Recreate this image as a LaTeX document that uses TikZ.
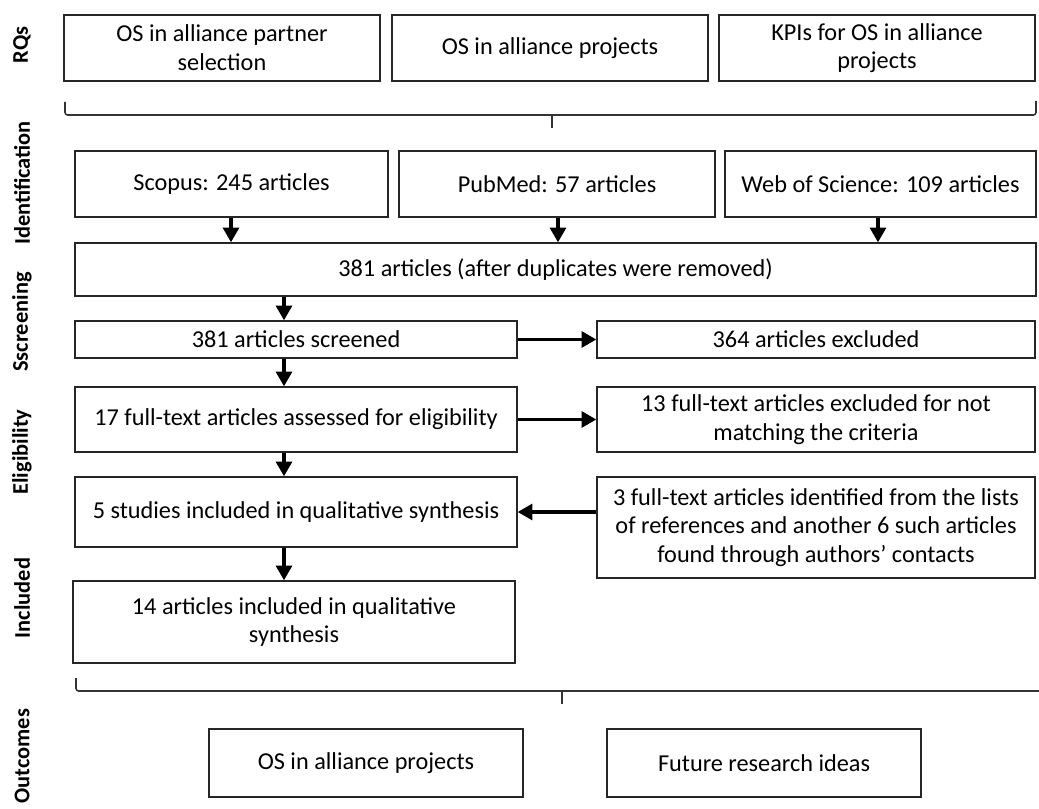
\documentclass[tikz,border=0pt]{standalone}
\usepackage{fontspec}
\setmainfont{Carlito}
\usetikzlibrary{arrows.meta}
\tikzset{
  box/.style={draw=black!85, line width=1.1pt, align=center, inner sep=2pt, font=\fontsize{18.2}{21.5}\selectfont},
  arr/.style={line width=2.3pt, -{Triangle[length=11pt,width=12pt]}},
  brace/.style={line width=1.2pt, draw=black!80, rounded corners=2pt},
  phase/.style={rotate=90, font=\bfseries\fontsize{16.8}{20}\selectfont, inner sep=0pt}
}
\newcommand\mybox[6]{\node[box,minimum width={(#4-#2)*0.75pt},minimum height={(#5-#3)*0.75pt}] (#1) at ({(#2+#4)/2},{(#3+#5)/2+1}) {#6};}
\begin{document}
\begin{tikzpicture}[x=0.75pt,y=-0.75pt]
\useasboundingbox (0,0) rectangle (1039,809);
% phase labels
\node[phase] (lrq) at (22,45) {RQs};
\node[phase] (lid) at (22,183) {Identification};
\node[phase] (lsc) at (22,322) {Sscreening};
\node[phase] (lel) at (22,452) {Eligibility};
\node[phase] (lin) at (22,598) {Included};
\node[phase] (lout) at (22,756) {Outcomes};
% RQ boxes
\mybox{rq1}{64}{14}{380}{80}{OS in alliance partner\\selection}
\mybox{rq2}{392}{14}{708}{80}{OS in alliance projects}
\mybox{rq3}{719}{14}{1035}{80}{KPIs for OS in alliance\\projects}
% top brace
\draw[brace] (65,102) -- (65,115) -- (1036,115) -- (1036,101);
\draw[line width=1.8pt, draw=black!80] (552,115) -- (552,128);
% identification
\mybox{sco}{75}{150}{388}{216}{Scopus: 245 articles}
\mybox{pub}{399}{150}{715}{216}{PubMed: 57 articles}
\mybox{wos}{725}{150}{1036}{216}{Web of Science: 109 articles}
\mybox{dup}{75}{242}{1036}{295}{381 articles (after duplicates were removed)}
\coordinate (c1) at (231,0);
\coordinate (c2) at (558,0);
\coordinate (c3) at (878,0);
\coordinate (cx) at (284,0);
\draw[arr] (sco.south -| c1) -- (dup.north -| c1);
\draw[arr] (pub.south -| c2) -- (dup.north -| c2);
\draw[arr] (wos.south -| c3) -- (dup.north -| c3);
% screening
\mybox{scr}{75}{320}{517}{357}{381 articles screened}
\mybox{exc}{597}{320}{1035}{357}{364 articles excluded}
\draw[arr] (dup.south -| cx) -- (scr.north -| cx);
\draw[arr] (scr.east) -- (exc.west);
% eligibility
\mybox{elg}{75}{386}{517}{451}{17 full-text articles assessed for eligibility}
\mybox{ex13}{597}{386}{1035}{451}{13 full-text articles excluded for not\\matching the criteria}
\draw[arr] (scr.south -| cx) -- (elg.north -| cx);
\draw[arr] (elg.east) -- (ex13.west);
\mybox{st5}{75}{476}{517}{546}{5 studies included in qualitative synthesis}
\mybox{add}{597}{476}{1035}{577}{3 full-text articles identified from the lists\\of references and another 6 such articles\\found through authors’ contacts}
\draw[arr] (elg.south -| cx) -- (st5.north -| cx);
\draw[arr] (add.west |- st5.east) -- (st5.east);
% included
\mybox{inc}{73}{580}{515}{662}{14 articles included in qualitative\\synthesis}
\draw[arr] (st5.south -| cx) -- (inc.north -| cx);
% bottom brace
\draw[brace] (76,678) -- (76,691) -- (1039,691);
\draw[line width=1.8pt, draw=black!80] (562,691) -- (562,704);
% outcomes
\mybox{o1}{209}{728}{523}{796}{OS in alliance projects}
\mybox{o2}{607}{728}{921}{796}{Future research ideas}
\end{tikzpicture}
\end{document}
